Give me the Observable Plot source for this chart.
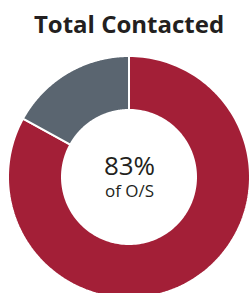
<!DOCTYPE html>
<html><head><meta charset="utf-8">
<script src="https://cdn.jsdelivr.net/npm/d3@7"></script>
<script src="https://cdn.jsdelivr.net/npm/@observablehq/plot@0.6"></script>
<style>html,body{margin:0;padding:0;background:#fff;overflow:hidden}</style>
</head><body><div id="chart"></div>
<script>
const title = "Total Contacted";
const categories = ["Contacted", "Not contacted"];
const values = [83, 17];
const colors = ["#a31f37", "#5a6570"];
const centerLabel = "of O/S";

const W = 251, H = 293;
const cx = 129, cy = 177, outerR = 121, innerR = 67;

const pie = d3.pie().sort(null).value(d => d.value);
const arcs = pie(categories.map((c, i) => ({category: c, value: values[i]})));
const pts = [];
arcs.forEach(a => {
  const n = 180;
  for (let k = 0; k <= n; k++) {
    const t = a.startAngle + (a.endAngle - a.startAngle) * k / n;
    pts.push({
      category: a.data.category,
      x1: outerR * Math.sin(t), y1: outerR * Math.cos(t),
      x2: innerR * Math.sin(t), y2: innerR * Math.cos(t)
    });
  }
});
const pct = Math.round(values[0] / d3.sum(values) * 100) + "%";

const chart = Plot.plot({
  width: W, height: H, margin: 0,
  style: {fontFamily: "'Open Sans', sans-serif", background: "#fff", overflow: "hidden"},
  x: {domain: [-outerR, outerR], range: [cx - outerR, cx + outerR], axis: null},
  y: {domain: [-outerR, outerR], range: [cy + outerR, cy - outerR], axis: null},
  color: {domain: categories, range: colors},
  marks: [
    Plot.area(pts, {x1: "x1", y1: "y1", x2: "x2", y2: "y2", z: "category", fill: "category", stroke: "white", strokeWidth: 2, curve: "linear"}),
    Plot.text([pct], {x: 0, y: 0, text: d => d, dy: -21, lineAnchor: "top", fontSize: 26, fill: "#231f20"}),
    Plot.text([centerLabel], {x: 0, y: 0, text: d => d, dy: 7, lineAnchor: "top", fontSize: 17, fill: "#231f20"}),
    Plot.text([title], {frameAnchor: "top", dx: 3, dy: 15, text: d => d, lineAnchor: "top", fontSize: 24, fontWeight: "bold", fill: "#231f20"})
  ]
});
document.getElementById("chart").appendChild(chart);
</script></body></html>
